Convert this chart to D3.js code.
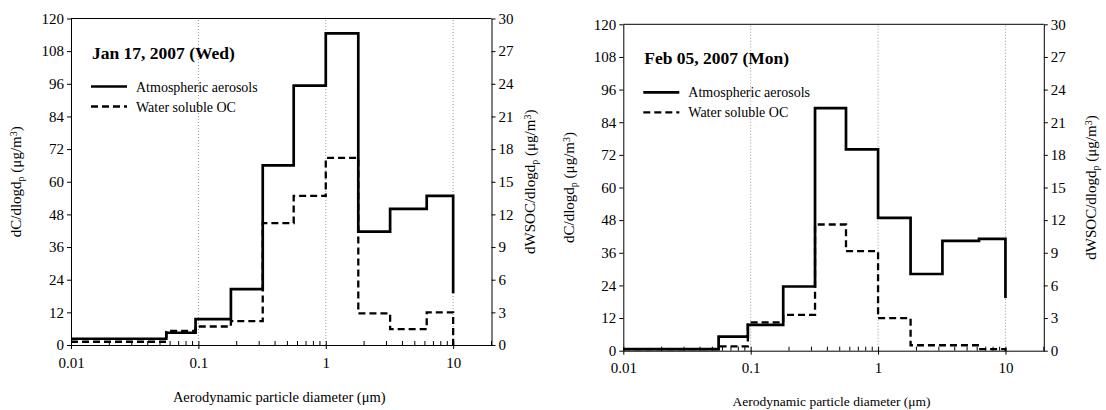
<!DOCTYPE html>
<html lang="en">
<head>
<meta charset="utf-8">
<title>Size distribution of aerosols and WSOC</title>
<script src="https://d3js.org/d3.v7.min.js"></script>
<style type="text/css">
    body { margin: 0; background: #fff; }
    text { font-family: "Liberation Serif", "Times New Roman", serif; fill: #000; }
</style>
</head>
<body>
<script type="text/javascript">

    // bin edges of the impactor stages (um)
    var edges = [0.01, 0.056, 0.095, 0.18, 0.32, 0.56, 1.0, 1.8, 3.2, 6.2, 10];

    // Jan 17, 2007
    var janAerosol = [2.3, 4.5, 9.5, 20.5, 66, 95.3, 114.5, 41.7, 50, 54.8];
    var janAerosolEnd = 19;
    var janWsoc = [0.3, 1.3, 1.7, 2.2, 11.2, 13.7, 17.2, 2.9, 1.45, 3.0];
    var janWsocEnd = 0;

    // Feb 05, 2007
    var febAerosol = [0.6, 5.2, 9.5, 23.6, 89.2, 74, 48.8, 28.2, 40.4, 41.1];
    var febAerosolEnd = 19.4;
    var febWsoc = [0.15, 0.4, 2.6, 3.3, 11.6, 9.15, 3.0, 0.5, 0.5, 0.15];
    var febWsocEnd = 0;

    var leftTicks = [0, 12, 24, 36, 48, 60, 72, 84, 96, 108, 120];
    var rightTicks = [0, 3, 6, 9, 12, 15, 18, 21, 24, 27, 30];
    var xMajor = [0.01, 0.1, 1, 10];
    var xLabel = "Aerodynamic particle diameter (\u03bcm)";
    var legendNames = ["Atmospheric aerosols", "Water soluble OC"];

    var w = 1106;
    var h = 410;

    var svg = d3.select("body")
        .append("svg")
        .attr("width", w)
        .attr("height", h);

    function stepPoints(vals, endVal) {
        var pts = vals.map(function (v, i) { return [edges[i], v]; });
        pts.push([edges[edges.length - 1], vals[vals.length - 1]]);
        pts.push([edges[edges.length - 1], endVal]);
        return pts;
    }

    function drawPanel(p) {
        var x = d3.scaleLog().domain([0.01, 20]).range([p.left, p.right]);
        var y = d3.scaleLinear().domain([0, 120]).range([p.bottom, p.top]);
        var y2 = d3.scaleLinear().domain([0, 30]).range([p.bottom, p.top]);

        var g = svg.append("g");

        // dotted vertical grid
        g.selectAll("line.grid")
            .data(xMajor.slice(1))
            .enter()
            .append("line")
            .attr("x1", function (d) { return x(d); })
            .attr("x2", function (d) { return x(d); })
            .attr("y1", p.bottom)
            .attr("y2", p.top)
            .attr("stroke", "#999")
            .attr("stroke-width", 1)
            .attr("stroke-dasharray", "1,2");

        // box top
        g.append("line")
            .attr("x1", p.left).attr("x2", p.right)
            .attr("y1", p.top).attr("y2", p.top)
            .attr("stroke", "#000");

        // left axis
        var ya = g.append("g")
            .attr("transform", "translate(" + p.left + ",0)")
            .call(d3.axisLeft(y).tickValues(leftTicks).tickSize(4).tickPadding(3).tickSizeOuter(0));
        ya.selectAll("text").style("font-size", "15px").style("font-family", "Liberation Serif");

        // right axis
        var yb = g.append("g")
            .attr("transform", "translate(" + p.right + ",0)")
            .call(d3.axisRight(y2).tickValues(rightTicks).tickSize(4).tickPadding(3).tickSizeOuter(0));
        yb.selectAll("text").style("font-size", "15px").style("font-family", "Liberation Serif");

        // bottom axis: major labels and minor inside ticks
        var minor = [];
        [0.01, 0.1, 1, 10].forEach(function (dec) {
            for (var k = 2; k <= 9; k++) {
                if (dec * k <= 20) minor.push(dec * k);
            }
        });
        var xa = g.append("g")
            .attr("transform", "translate(0," + p.bottom + ")")
            .call(d3.axisBottom(x).tickValues(xMajor).tickSize(4).tickPadding(8).tickSizeOuter(0)
                .tickFormat(function (d) { return String(d); }));
        xa.selectAll("text").style("font-size", "15px").style("font-family", "Liberation Serif");
        xa.selectAll(".tick line").attr("y1", -4);
        g.selectAll("line.minor")
            .data(minor)
            .enter()
            .append("line")
            .attr("x1", function (d) { return x(d); })
            .attr("x2", function (d) { return x(d); })
            .attr("y1", p.bottom)
            .attr("y2", p.bottom - 4)
            .attr("stroke", "#000");

        // step lines
        var line1 = d3.line().curve(d3.curveStepAfter)
            .x(function (d) { return x(d[0]); })
            .y(function (d) { return y(d[1]); });
        var line2 = d3.line().curve(d3.curveStepAfter)
            .x(function (d) { return x(d[0]); })
            .y(function (d) { return y2(d[1]); });

        g.append("path")
            .attr("d", line2(stepPoints(p.wsoc, p.wsocEnd)))
            .attr("fill", "none")
            .attr("stroke", "#000")
            .attr("stroke-width", 2.3)
            .attr("stroke-dasharray", "7,4");

        g.append("path")
            .attr("d", line1(stepPoints(p.aerosol, p.aerosolEnd)))
            .attr("fill", "none")
            .attr("stroke", "#000")
            .attr("stroke-width", 2.7);

        // title and legend
        g.append("text")
            .attr("x", p.left + 21)
            .attr("y", p.top + 40)
            .style("font-size", "17.5px")
            .style("font-weight", "bold")
            .text(p.title);

        [0, 1].forEach(function (i) {
            var ly = p.top + 68 + i * 20;
            g.append("line")
                .attr("x1", p.left + 20).attr("x2", p.left + 56)
                .attr("y1", ly).attr("y2", ly)
                .attr("stroke", "#000")
                .attr("stroke-width", i === 0 ? 2.7 : 2.3)
                .attr("stroke-dasharray", i === 0 ? null : "7,4");
            g.append("text")
                .attr("x", p.left + 65)
                .attr("y", ly + 5)
                .style("font-size", "14px")
                .text(legendNames[i]);
        });

        // axis titles
        g.append("text")
            .attr("x", (p.left + p.right) / 2 - 2)
            .attr("y", p.xLabelY)
            .attr("text-anchor", "middle")
            .style("font-size", p.xLabelSize)
            .text(xLabel);

        var mid = (p.top + p.bottom) / 2;
        var t1 = g.append("text")
            .attr("transform", "translate(" + p.yLabelX + "," + mid + ") rotate(-90)")
            .attr("text-anchor", "middle")
            .style("font-size", "15px");
        t1.append("tspan").text("dC/dlogd");
        t1.append("tspan").attr("baseline-shift", "-25%").style("font-size", "10px").text("p");
        t1.append("tspan").text(" (\u03bcg/m");
        t1.append("tspan").attr("baseline-shift", "40%").style("font-size", "10px").text("3");
        t1.append("tspan").text(")");

        var t2 = g.append("text")
            .attr("transform", "translate(" + p.y2LabelX + "," + mid + ") rotate(-90)")
            .attr("text-anchor", "middle")
            .style("font-size", "15px");
        t2.append("tspan").text("dWSOC/dlogd");
        t2.append("tspan").attr("baseline-shift", "-25%").style("font-size", "10px").text("p");
        t2.append("tspan").text(" (\u03bcg/m");
        t2.append("tspan").attr("baseline-shift", "40%").style("font-size", "10px").text("3");
        t2.append("tspan").text(")");
    }

    drawPanel({
        left: 71, right: 491.5, top: 18.5, bottom: 345,
        xLabelY: 402, xLabelSize: "14.5px", yLabelX: 21, y2LabelX: 535,
        title: "Jan 17, 2007 (Wed)",
        aerosol: janAerosol, aerosolEnd: janAerosolEnd,
        wsoc: janWsoc, wsocEnd: janWsocEnd
    });

    drawPanel({
        left: 623.3, right: 1043.8, top: 24.3, bottom: 350.7,
        xLabelY: 406, xLabelSize: "13.5px", yLabelX: 574, y2LabelX: 1096,
        title: "Feb 05, 2007 (Mon)",
        aerosol: febAerosol, aerosolEnd: febAerosolEnd,
        wsoc: febWsoc, wsocEnd: febWsocEnd
    });
</script>
</body>
</html>
